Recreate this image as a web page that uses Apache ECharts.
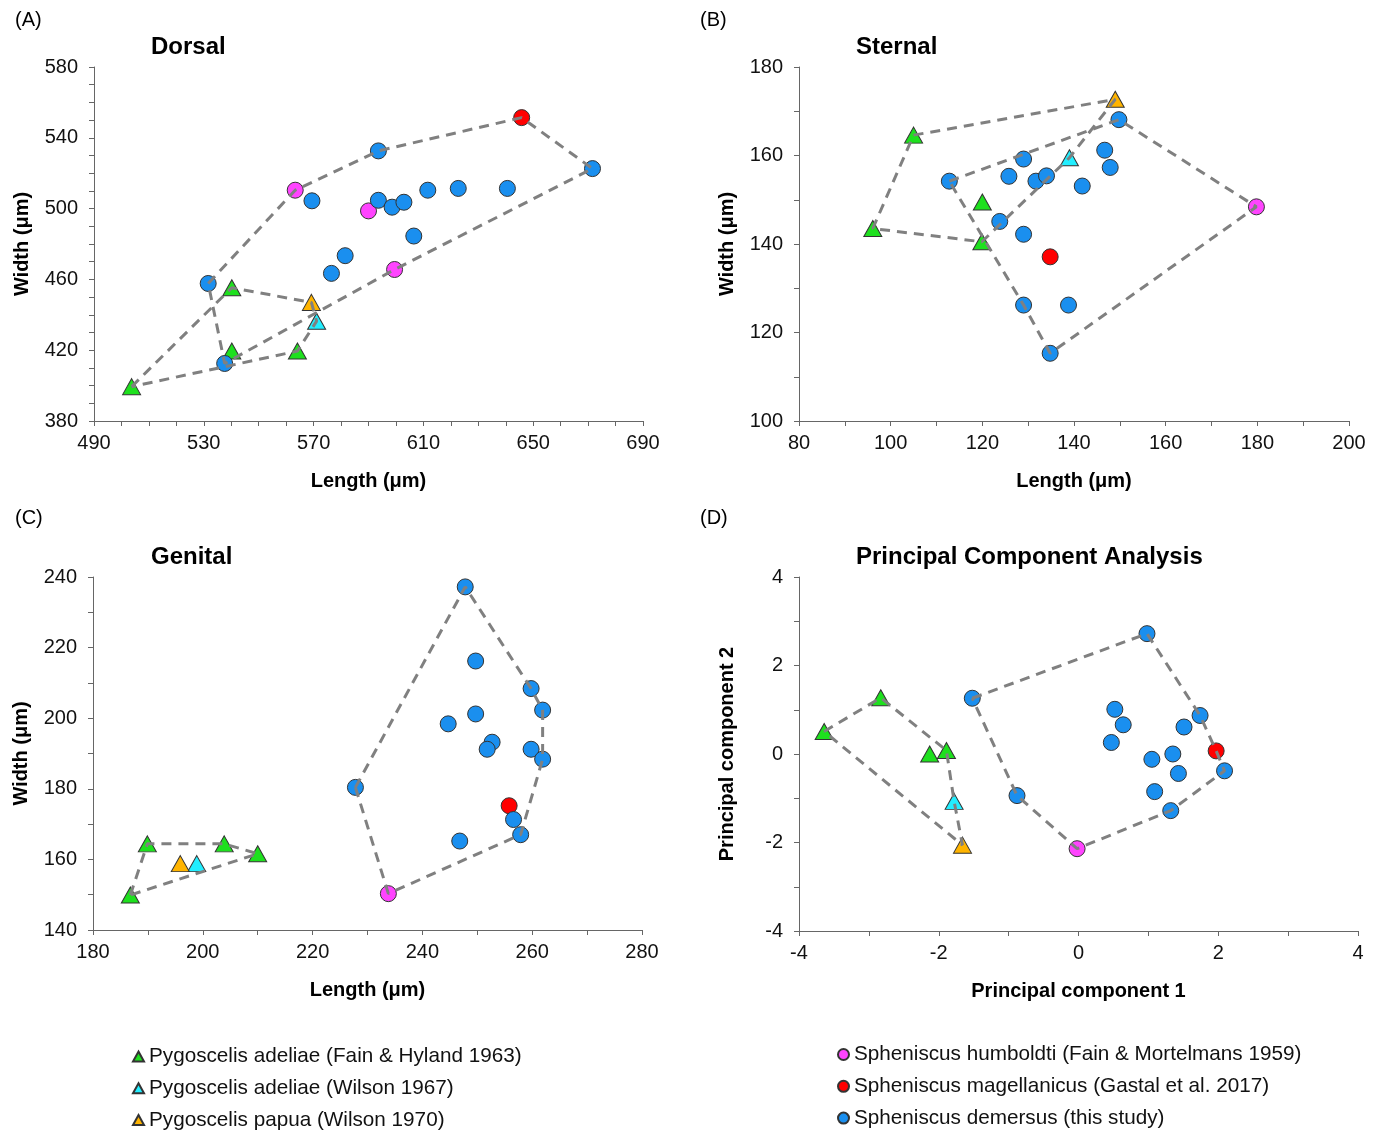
<!DOCTYPE html>
<html>
<head>
<meta charset="utf-8">
<script src="https://cdn.jsdelivr.net/npm/echarts@6/dist/echarts.min.js"></script>
<style>
html,body{margin:0;padding:0;background:#fff;}
#chart{width:1378px;height:1131px;}
</style>
</head>
<body>
<div id="chart"></div>
<script>
// ---------------- DATA ----------------
const seriesNames = [
  'Pygoscelis adeliae (Fain & Hyland 1963)',
  'Pygoscelis adeliae (Wilson 1967)',
  'Pygoscelis papua (Wilson 1970)',
  'Spheniscus humboldti (Fain & Mortelmans 1959)',
  'Spheniscus magellanicus (Gastal et al. 2017)',
  'Spheniscus demersus (this study)'
];
const seriesColors = ['#1EE01E', '#22EEFF', '#FFB400', '#FF44FF', '#FF0000', '#1A8FEF'];
const seriesSymbols = ['triangle', 'triangle', 'triangle', 'circle', 'circle', 'circle'];

// (A) Dorsal : [length, width]
const dorsalAdeliaeFH = [[503.7, 399.4], [540.2, 455.3], [540.2, 419.5], [564.1, 419.5]];
const dorsalAdeliaeW = [[571.1, 436.4]];
const dorsalPapua = [[569.2, 447.0]];
const dorsalHumboldti = [[563.3, 510.4], [590.0, 498.7], [599.5, 465.6]];
const dorsalMagellanicus = [[645.8, 551.4]];
const dorsalDemersus = [[531.6, 457.7], [537.6, 412.5], [569.4, 504.4], [593.6, 532.6], [593.6, 504.7],
  [598.6, 500.8], [602.9, 503.6], [611.6, 510.4], [622.7, 511.4], [640.6, 511.4], [606.5, 484.5],
  [581.5, 473.4], [576.5, 463.4], [671.6, 522.6]];
// hull vertex order: [group index, point index]
const dorsalHullPygoscelis = [[0, 0], [0, 1], [2, 0], [1, 0], [0, 3]];
const dorsalHullSpheniscus = [[5, 0], [3, 0], [5, 3], [4, 0], [5, 13], [3, 2], [5, 1]];

// (B) Sternal
const sternalAdeliaeFH = [[105.0, 164.6], [96.1, 143.5], [120.0, 149.5], [119.9, 140.5]];
const sternalAdeliaeW = [[139.0, 159.5]];
const sternalPapua = [[149.0, 172.7]];
const sternalHumboldti = [[179.8, 148.4]];
const sternalMagellanicus = [[134.8, 137.1]];
const sternalDemersus = [[149.8, 168.1], [146.7, 161.2], [147.9, 157.3], [112.8, 154.2], [129.0, 159.2],
  [125.8, 155.3], [131.7, 154.2], [134.0, 155.4], [141.8, 153.1], [123.8, 145.1], [129.0, 142.2],
  [129.0, 126.2], [138.8, 126.2], [134.8, 115.3]];
const sternalHullPygoscelis = [[0, 0], [2, 0], [1, 0], [0, 3], [0, 1]];
const sternalHullSpheniscus = [[5, 3], [5, 0], [3, 0], [5, 13], [5, 11]];

// (C) Genital
const genitalAdeliaeFH = [[186.8, 149.9], [189.9, 164.4], [203.9, 164.4], [210.0, 161.6]];
const genitalAdeliaeW = [[198.9, 158.8]];
const genitalPapua = [[195.9, 158.8]];
const genitalHumboldti = [[233.8, 150.3]];
const genitalMagellanicus = [[255.8, 175.2]];
const genitalDemersus = [[247.8, 237.2], [249.7, 216.2], [259.8, 208.4], [261.9, 202.3], [249.7, 201.2],
  [244.7, 198.4], [252.7, 193.2], [251.8, 191.2], [259.8, 191.2], [261.9, 188.4], [256.6, 171.3],
  [257.9, 167.0], [246.8, 165.2], [227.8, 180.4]];
const genitalHullPygoscelis = [[0, 0], [0, 1], [0, 2], [0, 3]];
const genitalHullSpheniscus = [[5, 13], [5, 0], [5, 2], [5, 3], [5, 9], [5, 11], [3, 0]];

// (D) Principal Component Analysis : [PC1, PC2]
const pcaAdeliaeFH = [[-3.64, 0.51], [-2.83, 1.27], [-2.13, 0.0], [-1.89, 0.08]];
const pcaAdeliaeW = [[-1.78, -1.07]];
const pcaPapua = [[-1.66, -2.06]];
const pcaHumboldti = [[-0.02, -2.14]];
const pcaMagellanicus = [[1.97, 0.07]];
const pcaDemersus = [[-1.52, 1.26], [0.98, 2.72], [1.74, 0.87], [1.51, 0.61], [0.52, 1.01], [0.64, 0.66],
  [0.47, 0.26], [1.05, -0.12], [1.35, 0.0], [1.43, -0.44], [2.09, -0.38], [1.09, -0.85], [1.32, -1.28],
  [-0.88, -0.94]];
const pcaHullPygoscelis = [[0, 0], [0, 1], [0, 3], [1, 0], [2, 0]];
const pcaHullSpheniscus = [[5, 0], [5, 1], [5, 2], [4, 0], [5, 10], [5, 12], [3, 0], [5, 13]];

// Titles & axes
const panelLetters = ['(A)', '(B)', '(C)', '(D)'];
const panelTitles = ['Dorsal', 'Sternal', 'Genital', 'Principal Component Analysis'];
const xAxisNames = ['Length (μm)', 'Length (μm)', 'Length (μm)', 'Principal component 1'];
const yAxisNames = ['Width (μm)', 'Width (μm)', 'Width (μm)', 'Principal component 2'];
// [min, max, tick interval, label step]
const xScales = [[490, 690, 10, 40], [80, 200, 10, 20], [180, 280, 10, 20], [-4, 4, 1, 2]];
const yScales = [[380, 580, 10, 40], [100, 180, 10, 20], [140, 240, 10, 20], [-4, 4, 1, 2]];

// ---------------- BUILD ----------------
const panelGroups = [
  [dorsalAdeliaeFH, dorsalAdeliaeW, dorsalPapua, dorsalHumboldti, dorsalMagellanicus, dorsalDemersus],
  [sternalAdeliaeFH, sternalAdeliaeW, sternalPapua, sternalHumboldti, sternalMagellanicus, sternalDemersus],
  [genitalAdeliaeFH, genitalAdeliaeW, genitalPapua, genitalHumboldti, genitalMagellanicus, genitalDemersus],
  [pcaAdeliaeFH, pcaAdeliaeW, pcaPapua, pcaHumboldti, pcaMagellanicus, pcaDemersus]
];
const panelHulls = [
  [dorsalHullPygoscelis, dorsalHullSpheniscus],
  [sternalHullPygoscelis, sternalHullSpheniscus],
  [genitalHullPygoscelis, genitalHullSpheniscus],
  [pcaHullPygoscelis, pcaHullSpheniscus]
];

const grids = [
  {left: 94, top: 67, width: 549, height: 354},
  {left: 799, top: 67, width: 550, height: 354},
  {left: 93, top: 577, width: 549, height: 353},
  {left: 799, top: 577, width: 559, height: 354}
];
const letterPos = [[15, 10], [700, 10], [15, 508], [700, 508]];
const titlePos = [[151, 35], [856, 35], [151, 545], [856, 545]];

const axisColor = '#666';
function makeAxis(i, scale, name, isX) {
  const [mn, mx, step, labStep] = scale;
  return {
    type: 'value', gridIndex: i, min: mn, max: mx, interval: step,
    name: name, nameLocation: 'middle', nameGap: isX ? 50 : 62,
    nameTextStyle: {fontFamily: 'Liberation Sans, Arial', fontWeight: 'bold', fontSize: 20, color: '#000'},
    splitLine: {show: false},
    axisLine: {show: true, onZero: false, lineStyle: {color: axisColor, width: 1}},
    axisTick: {show: true, inside: false, length: 5, lineStyle: {color: axisColor}},
    axisLabel: {
      fontFamily: 'Liberation Sans, Arial', fontSize: 20, color: '#111', margin: isX ? 12 : 16,
      formatter: v => {
        const k = Math.round((v - mn) / labStep * 1000) / 1000;
        return Number.isInteger(k) ? String(Math.round(v)) : '';
      }
    }
  };
}

const xAxes = [], yAxes = [], series = [], titles = [];
for (let i = 0; i < 4; i++) {
  xAxes.push(makeAxis(i, xScales[i], xAxisNames[i], true));
  yAxes.push(makeAxis(i, yScales[i], yAxisNames[i], false));
  titles.push({text: panelLetters[i], left: letterPos[i][0], top: letterPos[i][1], padding: 0,
    textStyle: {fontFamily: 'Liberation Sans, Arial', fontSize: 20, fontWeight: 'normal', color: '#000'}});
  titles.push({text: panelTitles[i], left: titlePos[i][0], top: titlePos[i][1], padding: 0,
    textStyle: {fontFamily: 'Liberation Sans, Arial', fontSize: 24, fontWeight: 'bold', color: '#000'}});
  const groups = panelGroups[i];
  for (let s = 0; s < 6; s++) {
    const tri = seriesSymbols[s] === 'triangle';
    series.push({
      type: 'scatter', name: seriesNames[s], xAxisIndex: i, yAxisIndex: i,
      data: groups[s], symbol: seriesSymbols[s], symbolSize: tri ? [18, 16] : 16,
      itemStyle: {color: seriesColors[s], borderColor: '#333', borderWidth: 1, opacity: 1},
      z: 2, emphasis: {disabled: true}
    });
  }
  panelHulls[i].forEach(hull => {
    const pts = hull.map(([g, k]) => groups[g][k]);
    pts.push(pts[0]);
    series.push({
      type: 'line', xAxisIndex: i, yAxisIndex: i, data: pts, showSymbol: false, symbol: 'none',
      lineStyle: {color: '#808080', width: 3, type: [10, 7]}, z: 5, silent: true, animation: false
    });
  });
}

const legendText = {fontFamily: 'Liberation Sans, Arial', fontSize: 20.7, color: '#111', lineHeight: 20};
const option = {
  animation: false,
  backgroundColor: '#fff',
  title: titles,
  grid: grids,
  xAxis: xAxes,
  yAxis: yAxes,
  legend: [
    {orient: 'vertical', left: 132, top: 1046, height: 200, width: 500, padding: 0, itemGap: 10.8,
      itemWidth: 11, itemHeight: 10, textStyle: legendText, selectedMode: false,
      data: seriesNames.slice(0, 3).map(n => ({name: n, icon: 'triangle'}))},
    {orient: 'vertical', left: 837, top: 1044, height: 200, width: 520, padding: 0, itemGap: 10.8,
      itemWidth: 11, itemHeight: 11, textStyle: legendText, selectedMode: false,
      data: seriesNames.slice(3, 6).map(n => ({name: n, icon: 'circle'}))}
  ],
  series: series
};
const chart = echarts.init(document.getElementById('chart'), null, {renderer: 'canvas'});
chart.setOption(option);
</script>
</body>
</html>
